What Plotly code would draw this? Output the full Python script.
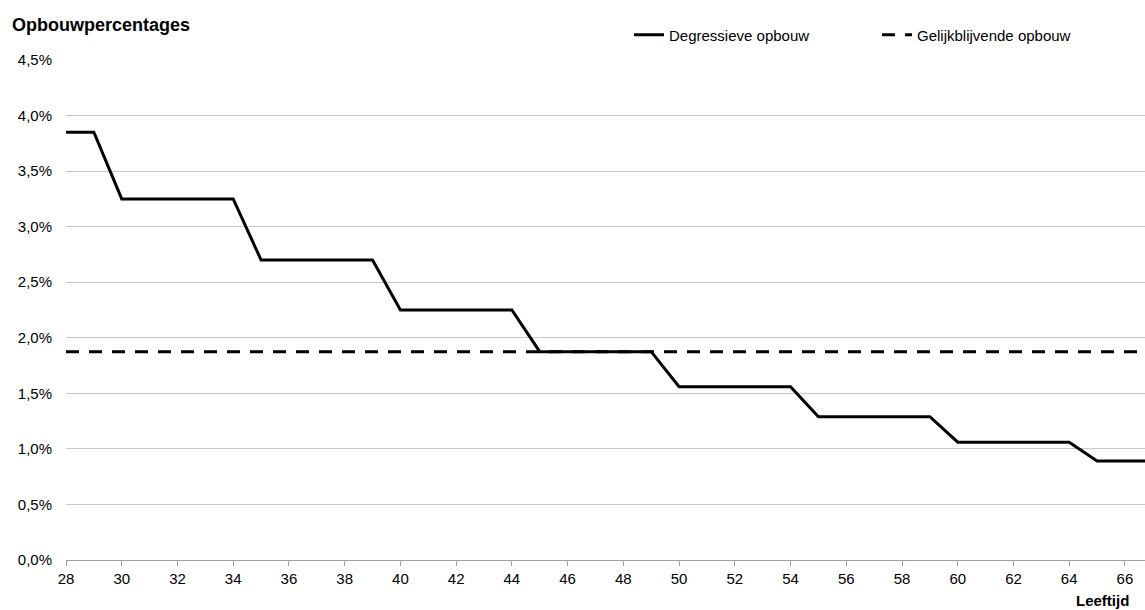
import plotly.graph_objects as go

ages = list(range(28, 68))
degressief = [3.85, 3.85] + [3.25]*5 + [2.70]*5 + [2.25]*5 + [1.875]*5 + [1.56]*5 + [1.29]*5 + [1.06]*5 + [0.89]*3
gelijk = [1.875]*len(ages)
y_ticks = [0, 0.5, 1.0, 1.5, 2.0, 2.5, 3.0, 3.5, 4.0, 4.5]
y_labels = ["0,0%", "0,5%", "1,0%", "1,5%", "2,0%", "2,5%", "3,0%", "3,5%", "4,0%", "4,5%"]
x_ticks = list(range(28, 67, 2))

font = "Liberation Sans, Arial, sans-serif"
PW, PH = 1079, 500  # plot area size in px

fig = go.Figure()
fig.add_trace(go.Scatter(x=ages, y=degressief, mode="lines", name="Degressieve opbouw",
                         line=dict(color="black", width=3)))
fig.add_trace(go.Scatter(x=ages, y=gelijk, mode="lines", name="Gelijkblijvende opbouw",
                         line=dict(color="black", width=3, dash="13px,10px")))

fig.update_layout(
    width=1145, height=610,
    margin=dict(l=66, r=0, t=60, b=50, autoexpand=False),
    plot_bgcolor="white", paper_bgcolor="white",
    font=dict(family=font, size=15, color="black"),
    showlegend=True,
    legend=dict(orientation="h", x=(629 - 66) / PW, y=1 + 25 / PH, xanchor="left", yanchor="middle",
                font=dict(size=15), entrywidth=203, bgcolor="rgba(0,0,0,0)"),
    xaxis=dict(range=[28, 66.72], tickvals=x_ticks, showgrid=False,
               showline=True, linecolor="#a0a0a0", linewidth=1,
               ticks="outside", ticklen=5, tickcolor="#a0a0a0", zeroline=False,
               tickfont=dict(size=15)),
    yaxis=dict(range=[0, 4.5], tickvals=y_ticks, ticktext=y_labels, showgrid=True,
               gridcolor="#c8c8c8", gridwidth=1, zeroline=False, showline=False,
               ticks="", ticklabelstandoff=13, tickfont=dict(size=15)),
    annotations=[
        dict(text="<b>Opbouwpercentages</b>", xref="paper", yref="paper", x=(10 - 66) / PW, y=1 + 35 / PH,
             xanchor="left", yanchor="middle", showarrow=False, font=dict(size=18)),
        dict(text="<b>Leeftijd</b>", xref="paper", yref="paper", x=(1131 - 66) / PW, y=-40 / PH,
             xanchor="right", yanchor="middle", showarrow=False, font=dict(size=15)),
    ],
)

fig.write_html("out.html", config={"displayModeBar": False},
               post_script="document.body.style.margin='0px';document.body.style.overflow='hidden';")
